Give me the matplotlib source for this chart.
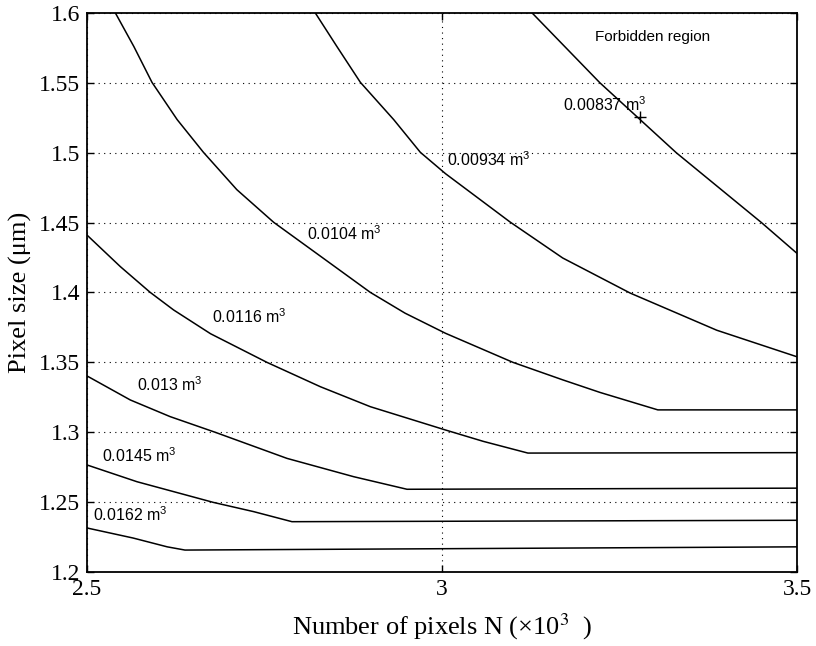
import matplotlib
matplotlib.use("Agg")
import matplotlib.pyplot as plt

plt.rcParams['mathtext.fontset'] = 'custom'
plt.rcParams['mathtext.rm'] = 'Liberation Sans'
plt.rcParams['mathtext.it'] = 'Liberation Sans'

# ---- data ----
x_ticks = [2.5, 3.0, 3.5]
x_tick_labels = ['2.5', '3', '3.5']
y_ticks = [1.2, 1.25, 1.3, 1.35, 1.4, 1.45, 1.5, 1.55, 1.6]
y_tick_labels = ['1.2', '1.25', '1.3', '1.35', '1.4', '1.45', '1.5', '1.55', '1.6']

# contour curves: N (x10^3) and pixel size (um)
n_00837 = [3.127, 3.2225, 3.33, 3.45, 3.5]
p_00837 = [1.6, 1.55, 1.5, 1.45, 1.428]
n_00934 = [2.8216, 2.852, 2.885, 2.932, 2.9695, 3.005, 3.096, 3.170, 3.265, 3.387, 3.5]
p_00934 = [1.6, 1.576, 1.5504, 1.5237, 1.5003, 1.485, 1.4504, 1.4247, 1.3996, 1.373, 1.354]
n_0104 = [2.540, 2.566, 2.5915, 2.627, 2.664, 2.711, 2.763, 2.829, 2.899, 2.948, 3.005,
          3.10, 3.17, 3.2225, 3.304, 3.5]
p_0104 = [1.6, 1.576, 1.5504, 1.5237, 1.5003, 1.4736, 1.4502, 1.4259, 1.4001, 1.3852, 1.3708,
          1.35, 1.3375, 1.3285, 1.316, 1.316]
n_0116 = [2.5, 2.547, 2.589, 2.622, 2.674, 2.7535, 2.8286, 2.899, 3.005, 3.058, 3.121, 3.5]
p_0116 = [1.4411, 1.4185, 1.4001, 1.3875, 1.3705, 1.35, 1.3326, 1.3183, 1.3016, 1.2935, 1.2851, 1.2854]
n_013 = [2.5, 2.561, 2.617, 2.681, 2.7817, 2.8756, 2.9507, 3.5]
p_013 = [1.3403, 1.3231, 1.3112, 1.2999, 1.2813, 1.2682, 1.2592, 1.260]
n_0145 = [2.5, 2.5704, 2.678, 2.7347, 2.7887, 3.5]
p_0145 = [1.2766, 1.2646, 1.2498, 1.2432, 1.236, 1.237]
n_0162 = [2.5, 2.565, 2.613, 2.638, 3.5]
p_0162 = [1.2315, 1.2243, 1.218, 1.2157, 1.218]

curves = [(n_00837, p_00837), (n_00934, p_00934), (n_0104, p_0104),
          (n_0116, p_0116), (n_013, p_013), (n_0145, p_0145), (n_0162, p_0162)]

label_texts = ['0.00837', '0.00934', '0.0104', '0.0116', '0.013', '0.0145', '0.0162']
label_x = [3.170, 3.007, 2.810, 2.676, 2.570, 2.521, 2.508]
label_y = [1.5299, 1.4905, 1.4376, 1.378, 1.3295, 1.2787, 1.2365]

optimum_n = [3.279]
optimum_p = [1.5256]

# ---- figure ----
fig = plt.figure(figsize=(8.16, 6.46), dpi=100)
ax = fig.add_axes([87/816, 1 - 572/646, 710/816, 559/646])

for n, p in curves:
    ax.plot(n, p, color='black', lw=1.1, solid_joinstyle='round')

ax.plot(optimum_n, optimum_p, marker='+', color='black', ms=8, mew=1.0, ls='none')

for t, x, y in zip(label_texts, label_x, label_y):
    ax.text(x, y, t + r' m$^{3}$', fontsize=11.5, family='Liberation Sans',
            ha='left', va='baseline', color='black')

ax.text(3.296, 1.583, 'Forbidden region', fontsize=11, family='Liberation Sans',
        ha='center', va='center')

ax.set_xlim(2.5, 3.5)
ax.set_ylim(1.2, 1.6)
ax.set_xticks(x_ticks)
ax.set_xticklabels(x_tick_labels)
ax.set_yticks(y_ticks)
ax.set_yticklabels(y_tick_labels)

for lab in ax.get_xticklabels() + ax.get_yticklabels():
    lab.set_family('Liberation Serif')
    lab.set_fontsize(17)

ax.tick_params(direction='in', length=5, width=1, top=True, right=True, pad=5)
ax.grid(True, color='black', linestyle=(0, (1, 4)), linewidth=0.8)
for s in ax.spines.values():
    s.set_linewidth(1.3)

ax.set_xlabel('Number of pixels N (×10$^3$  )', fontsize=19, family='Liberation Serif',
              math_fontfamily='stix', labelpad=8)
ax.set_ylabel('Pixel size (μm)', fontsize=19, family='Liberation Serif', labelpad=5)

fig.savefig('out.png', dpi=100)
